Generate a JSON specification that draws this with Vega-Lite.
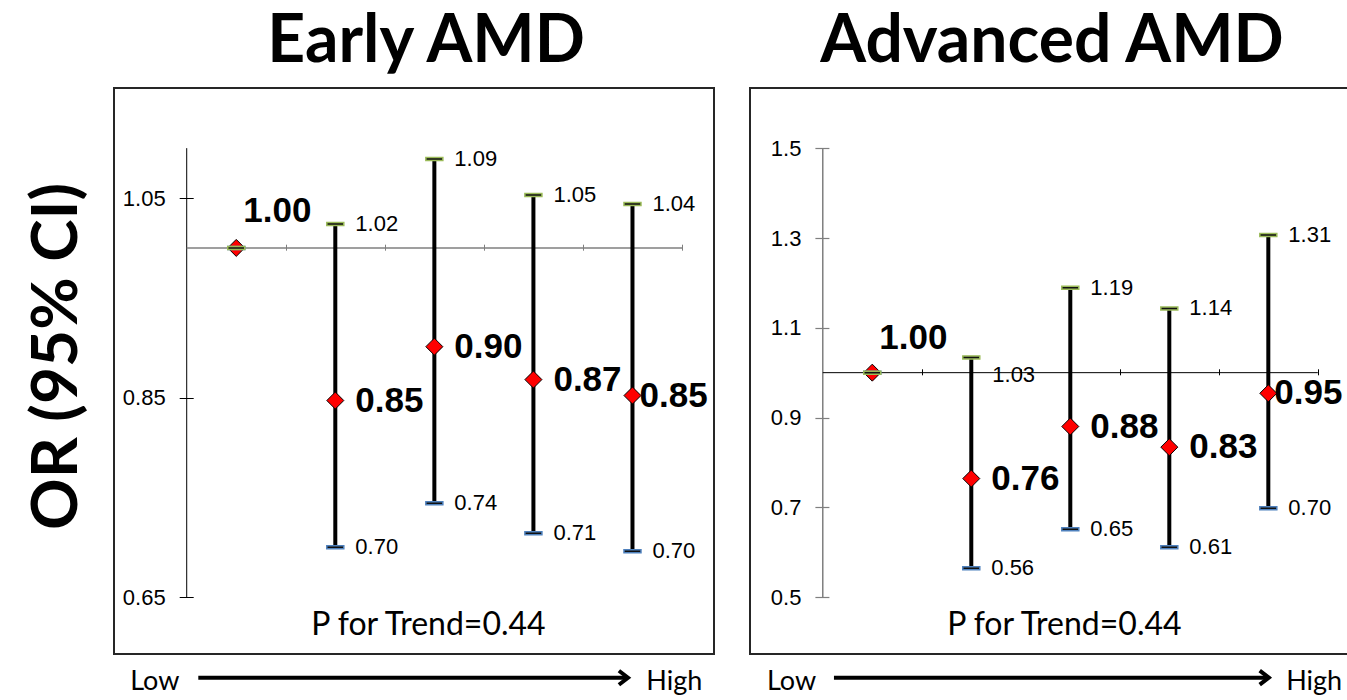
{
  "$schema": "https://vega.github.io/schema/vega-lite/v6.json",
  "background": "white",
  "padding": {"left": 24, "top": 8, "right": 0, "bottom": 0},
  "spacing": 34,
  "config": {
    "view": {"stroke": "#262626", "strokeWidth": 2},
    "font": "Liberation Sans",
    "text": {"color": "black"}
  },
  "hconcat": [
    {
      "width": 600,
      "height": 566,
      "title": {"text": "Early AMD", "font": "Lato", "fontSize": 66, "fontWeight": "bold", "color": "black", "anchor": "middle", "frame": "group", "baseline": "alphabetic", "offset": -40, "dx": 12},
      "data": {"values": [
        {"g": 1, "or": 1.0, "lo": 1.0, "hi": 1.0},
        {"g": 2, "or": 0.847, "lo": 0.700, "hi": 1.024},
        {"g": 3, "or": 0.901, "lo": 0.744, "hi": 1.089},
        {"g": 4, "or": 0.868, "lo": 0.714, "hi": 1.053},
        {"g": 5, "or": 0.852, "lo": 0.696, "hi": 1.044}
      ]},
      "layer": [
        {
          "data": {"values": [{}]},
          "mark": {"type": "rule", "color": "black", "strokeWidth": 1},
          "encoding": {
            "x": {"datum": 0.5, "type": "quantitative",
              "scale": {"domain": [-0.234, 5.823], "nice": false, "zero": false},
              "axis": {"orient": "top", "offset": -162.2, "values": [1.5, 2.5, 3.5, 4.5, 5.5], "labels": false, "domain": false, "tickSize": 6, "tickColor": "#7f7f7f", "tickWidth": 1, "title": null, "grid": false}},
            "y": {"datum": 0.65, "type": "quantitative",
              "scale": {"domain": [0.5929, 1.1603], "nice": false, "zero": false},
              "axis": {"values": [0.65, 0.85, 1.05], "format": ".2f", "domain": false, "tickSize": 14, "tickColor": "black", "tickWidth": 1, "offset": -79.2, "labelPadding": 14, "labelFontSize": 22, "labelColor": "black", "labelFont": "Liberation Sans", "title": "OR (95% CI)", "titleFont": "Lato", "titleFontSize": 64, "titleFontWeight": "bold", "titleColor": "black", "titlePadding": 33, "titleY": 268, "grid": false}},
            "y2": {"datum": 1.10}
          }
        },
        {
          "data": {"values": [{}]},
          "mark": {"type": "rule", "color": "#7f7f7f", "strokeWidth": 1.5},
          "encoding": {"x": {"datum": 0.5}, "x2": {"datum": 5.5}, "y": {"datum": 1.0}}
        },
        {
          "mark": {"type": "rule", "color": "black", "strokeWidth": 4},
          "encoding": {"x": {"field": "g", "type": "quantitative"}, "y": {"field": "lo", "type": "quantitative"}, "y2": {"field": "hi"}}
        },
        {
          "mark": {"type": "point", "shape": "diamond", "filled": true, "fill": "#ff0000", "stroke": "black", "strokeWidth": 1, "size": 289, "opacity": 1},
          "encoding": {"x": {"field": "g", "type": "quantitative"}, "y": {"field": "or", "type": "quantitative"}}
        },
        {
          "mark": {"type": "tick", "orient": "horizontal", "thickness": 3, "color": "#111111", "stroke": "#4F81BD", "strokeWidth": 1.5, "opacity": 1},
          "encoding": {"x": {"field": "g", "type": "quantitative"}, "y": {"field": "lo", "type": "quantitative"}, "size": {"value": 17}}
        },
        {
          "mark": {"type": "tick", "orient": "horizontal", "thickness": 3, "color": "#111111", "stroke": "#9BBB59", "strokeWidth": 1.5, "opacity": 1},
          "encoding": {"x": {"field": "g", "type": "quantitative"}, "y": {"field": "hi", "type": "quantitative"}, "size": {"value": 17}}
        },
        {
          "transform": [{"filter": "datum.g > 1"}],
          "mark": {"type": "text", "align": "left", "baseline": "middle", "dx": 20, "fontSize": 22},
          "encoding": {"x": {"field": "g", "type": "quantitative"}, "y": {"field": "hi", "type": "quantitative"}, "text": {"field": "hi", "format": ".2f"}}
        },
        {
          "transform": [{"filter": "datum.g > 1"}],
          "mark": {"type": "text", "align": "left", "baseline": "middle", "dx": 20, "fontSize": 22},
          "encoding": {"x": {"field": "g", "type": "quantitative"}, "y": {"field": "lo", "type": "quantitative"}, "text": {"field": "lo", "format": ".2f"}}
        },
        {
          "transform": [{"filter": "datum.g > 1 && datum.g < 5"}],
          "mark": {"type": "text", "align": "left", "baseline": "middle", "dx": 20, "fontSize": 35, "fontWeight": "bold"},
          "encoding": {"x": {"field": "g", "type": "quantitative"}, "y": {"field": "or", "type": "quantitative"}, "text": {"field": "or", "format": ".2f"}}
        },
        {
          "transform": [{"filter": "datum.g == 5"}],
          "mark": {"type": "text", "align": "left", "baseline": "middle", "dx": 7, "fontSize": 35, "fontWeight": "bold"},
          "encoding": {"x": {"field": "g", "type": "quantitative"}, "y": {"field": "or", "type": "quantitative"}, "text": {"field": "or", "format": ".2f"}}
        },
        {
          "transform": [{"filter": "datum.g == 1"}],
          "mark": {"type": "text", "align": "left", "baseline": "middle", "dx": 7, "dy": -37, "fontSize": 35, "fontWeight": "bold"},
          "encoding": {"x": {"field": "g", "type": "quantitative"}, "y": {"field": "or", "type": "quantitative"}, "text": {"field": "or", "format": ".2f"}}
        },
        {
          "data": {"values": [{}]},
          "mark": {"type": "text", "align": "center", "baseline": "alphabetic", "font": "Lato", "fontSize": 32},
          "encoding": {"x": {"datum": 2.94}, "y": {"datum": 0.612}, "text": {"value": "P for Trend=0.44"}}
        },
        {
          "data": {"values": [{}]},
          "mark": {"type": "text", "align": "left", "baseline": "alphabetic", "font": "Lato", "fontSize": 27},
          "encoding": {"x": {"datum": -0.07}, "y": {"datum": 0.5568}, "text": {"value": "Low"}}
        },
        {
          "data": {"values": [{}]},
          "mark": {"type": "text", "align": "left", "baseline": "alphabetic", "font": "Lato", "fontSize": 27},
          "encoding": {"x": {"datum": 5.14}, "y": {"datum": 0.5568}, "text": {"value": "High"}}
        },
        {
          "data": {"values": [{}]},
          "mark": {"type": "rule", "color": "black", "strokeWidth": 4},
          "encoding": {"x": {"datum": 0.617}, "x2": {"datum": 4.93}, "y": {"datum": 0.5691}}
        },
        {
          "data": {"values": [{}]},
          "mark": {"type": "point", "shape": "M-1.3,-1L0,0L-1.3,1", "filled": false, "stroke": "black", "strokeWidth": 4, "size": 196, "opacity": 1, "strokeJoin": "miter"},
          "encoding": {"x": {"datum": 4.955}, "y": {"datum": 0.5691}}
        }
      ]
    },
    {
      "width": 600,
      "height": 566,
      "title": {"text": "Advanced AMD", "font": "Lato", "fontSize": 66, "fontWeight": "bold", "color": "black", "anchor": "middle", "frame": "group", "baseline": "alphabetic", "offset": -40, "dx": 2},
      "data": {"values": [
        {"g": 1, "or": 1.0, "lo": 1.0, "hi": 1.0},
        {"g": 2, "or": 0.764, "lo": 0.564, "hi": 1.034},
        {"g": 3, "or": 0.880, "lo": 0.651, "hi": 1.189},
        {"g": 4, "or": 0.834, "lo": 0.611, "hi": 1.143},
        {"g": 5, "or": 0.954, "lo": 0.698, "hi": 1.307}
      ]},
      "layer": [
        {
          "data": {"values": [{}]},
          "mark": {"type": "rule", "color": "#7f7f7f", "strokeWidth": 1.5},
          "encoding": {
            "x": {"datum": 0.5, "type": "quantitative",
              "scale": {"domain": [-0.235, 5.825], "nice": false, "zero": false},
              "axis": {"orient": "top", "offset": -286.8, "values": [1.5, 2.5, 3.5, 4.5, 5.5], "labels": false, "domain": false, "tickSize": 6, "tickColor": "black", "tickWidth": 1, "title": null, "grid": false}},
            "y": {"datum": 0.5, "type": "quantitative",
              "scale": {"domain": [0.373, 1.6344], "nice": false, "zero": false},
              "axis": {"values": [0.5, 0.7, 0.9, 1.1, 1.3, 1.5], "format": ".1f", "domain": false, "tickSize": 14, "tickColor": "#7f7f7f", "tickWidth": 1.2, "offset": -78.9, "labelPadding": 14, "labelFontSize": 22, "labelColor": "black", "labelFont": "Liberation Sans", "title": null, "grid": false}},
            "y2": {"datum": 1.5}
          }
        },
        {
          "data": {"values": [{}]},
          "mark": {"type": "rule", "color": "black", "strokeWidth": 1},
          "encoding": {"x": {"datum": 0.5}, "x2": {"datum": 5.5}, "y": {"datum": 1.0}}
        },
        {
          "mark": {"type": "rule", "color": "black", "strokeWidth": 4},
          "encoding": {"x": {"field": "g", "type": "quantitative"}, "y": {"field": "lo", "type": "quantitative"}, "y2": {"field": "hi"}}
        },
        {
          "mark": {"type": "point", "shape": "diamond", "filled": true, "fill": "#ff0000", "stroke": "black", "strokeWidth": 1, "size": 289, "opacity": 1},
          "encoding": {"x": {"field": "g", "type": "quantitative"}, "y": {"field": "or", "type": "quantitative"}}
        },
        {
          "mark": {"type": "tick", "orient": "horizontal", "thickness": 3, "color": "#111111", "stroke": "#4F81BD", "strokeWidth": 1.5, "opacity": 1},
          "encoding": {"x": {"field": "g", "type": "quantitative"}, "y": {"field": "lo", "type": "quantitative"}, "size": {"value": 17}}
        },
        {
          "mark": {"type": "tick", "orient": "horizontal", "thickness": 3, "color": "#111111", "stroke": "#9BBB59", "strokeWidth": 1.5, "opacity": 1},
          "encoding": {"x": {"field": "g", "type": "quantitative"}, "y": {"field": "hi", "type": "quantitative"}, "size": {"value": 17}}
        },
        {
          "transform": [{"filter": "datum.g > 2"}],
          "mark": {"type": "text", "align": "left", "baseline": "middle", "dx": 20, "fontSize": 22},
          "encoding": {"x": {"field": "g", "type": "quantitative"}, "y": {"field": "hi", "type": "quantitative"}, "text": {"field": "hi", "format": ".2f"}}
        },
        {
          "transform": [{"filter": "datum.g == 2"}],
          "mark": {"type": "text", "align": "left", "baseline": "middle", "dx": 21, "dy": 18, "fontSize": 22},
          "encoding": {"x": {"field": "g", "type": "quantitative"}, "y": {"field": "hi", "type": "quantitative"}, "text": {"field": "hi", "format": ".2f"}}
        },
        {
          "transform": [{"filter": "datum.g > 1"}],
          "mark": {"type": "text", "align": "left", "baseline": "middle", "dx": 20, "fontSize": 22},
          "encoding": {"x": {"field": "g", "type": "quantitative"}, "y": {"field": "lo", "type": "quantitative"}, "text": {"field": "lo", "format": ".2f"}}
        },
        {
          "transform": [{"filter": "datum.g > 1 && datum.g < 5"}],
          "mark": {"type": "text", "align": "left", "baseline": "middle", "dx": 20, "fontSize": 35, "fontWeight": "bold"},
          "encoding": {"x": {"field": "g", "type": "quantitative"}, "y": {"field": "or", "type": "quantitative"}, "text": {"field": "or", "format": ".2f"}}
        },
        {
          "transform": [{"filter": "datum.g == 5"}],
          "mark": {"type": "text", "align": "left", "baseline": "middle", "dx": 6, "fontSize": 35, "fontWeight": "bold"},
          "encoding": {"x": {"field": "g", "type": "quantitative"}, "y": {"field": "or", "type": "quantitative"}, "text": {"field": "or", "format": ".2f"}}
        },
        {
          "transform": [{"filter": "datum.g == 1"}],
          "mark": {"type": "text", "align": "left", "baseline": "middle", "dx": 7, "dy": -35, "fontSize": 35, "fontWeight": "bold"},
          "encoding": {"x": {"field": "g", "type": "quantitative"}, "y": {"field": "or", "type": "quantitative"}, "text": {"field": "or", "format": ".2f"}}
        },
        {
          "data": {"values": [{}]},
          "mark": {"type": "text", "align": "center", "baseline": "alphabetic", "font": "Lato", "fontSize": 32},
          "encoding": {"x": {"datum": 2.94}, "y": {"datum": 0.4153}, "text": {"value": "P for Trend=0.44"}}
        },
        {
          "data": {"values": [{}]},
          "mark": {"type": "text", "align": "left", "baseline": "alphabetic", "font": "Lato", "fontSize": 27},
          "encoding": {"x": {"datum": -0.064}, "y": {"datum": 0.2927}, "text": {"value": "Low"}}
        },
        {
          "data": {"values": [{}]},
          "mark": {"type": "text", "align": "left", "baseline": "alphabetic", "font": "Lato", "fontSize": 27},
          "encoding": {"x": {"datum": 5.18}, "y": {"datum": 0.2927}, "text": {"value": "High"}}
        },
        {
          "data": {"values": [{}]},
          "mark": {"type": "rule", "color": "black", "strokeWidth": 4},
          "encoding": {"x": {"datum": 0.613}, "x2": {"datum": 4.98}, "y": {"datum": 0.3202}}
        },
        {
          "data": {"values": [{}]},
          "mark": {"type": "point", "shape": "M-1.3,-1L0,0L-1.3,1", "filled": false, "stroke": "black", "strokeWidth": 4, "size": 196, "opacity": 1, "strokeJoin": "miter"},
          "encoding": {"x": {"datum": 5.005}, "y": {"datum": 0.3202}}
        }
      ]
    }
  ]
}
